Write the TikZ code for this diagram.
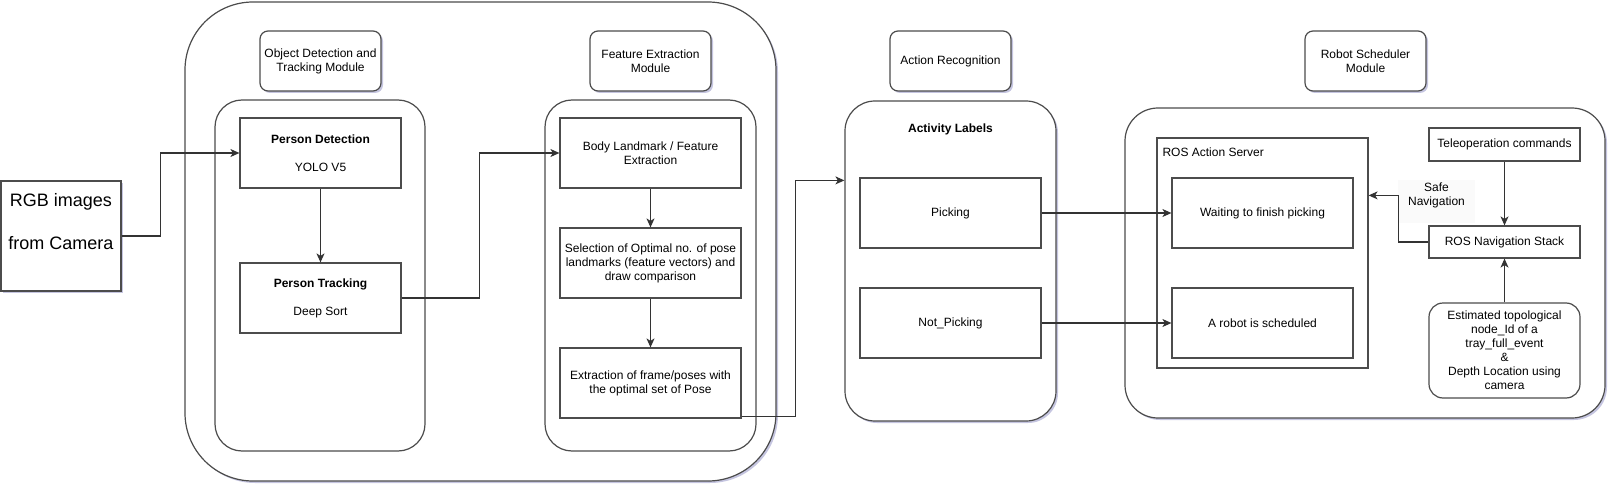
\documentclass[tikz,border=0pt]{standalone}
\usepackage{fontspec}
\setmainfont{Liberation Sans}
\usetikzlibrary{arrows.meta,shadows}

\begin{document}
\begin{tikzpicture}[x=1pt,y=-1pt]
    \tikzset{
        box/.style={draw=black!70,line width=1.2pt,fill=white,inner sep=0pt,
            align=center,font=\fontsize{12}{14}\selectfont},
        rbox/.style={box,rounded corners=#1},
        shade/.style={drop shadow={shadow xshift=2pt,shadow yshift=-2pt,
            opacity=0.35,fill=blue!30!gray}},
        title/.style={rbox=8pt,shade,minimum width=121pt,minimum height=60pt},
        step box/.style={box,minimum width=181pt,minimum height=70pt},
        arr/.style={draw=black!80,line width=1.1pt,
            -{Stealth[length=9pt,width=8pt,inset=2.5pt]}},
    }
    \useasboundingbox (0,0) rectangle (1618,492);
    % input
    \node[box,shade,minimum width=120pt,minimum height=110pt] (rgb) at (61,236) {};
    \node[font=\fontsize{18}{21.5}\selectfont,align=center] (rgbtext) at (61,221.5)
        {RGB images\\[21.5pt]from Camera};
    % modules
    \node[rbox=68pt,shade,minimum width=591pt,minimum height=479pt] (main) at (480.5,241.5) {};
    \node[rbox=30pt,shade,minimum width=211pt,minimum height=320pt] (act) at (950.5,261) {};
    \node[rbox=33pt,shade,minimum width=480pt,minimum height=310pt] (sched) at (1365,263) {};
    \node[title] (odt) at (320.5,61) {Object Detection and\\Tracking Module};
    \node[title] (fem) at (650.5,61) {Feature Extraction\\Module};
    \node[title] (ar) at (950.5,61) {Action Recognition};
    \node[title] (rsm) at (1365.5,61) {Robot Scheduler\\Module};
    \node[rbox=27pt,minimum width=210pt,minimum height=351pt] (track) at (320,275.5) {};
    \node[rbox=27pt,minimum width=211pt,minimum height=351pt] (feat) at (650.5,275.5) {};
    \node[box,minimum width=211pt,minimum height=230pt] (ras) at (1262.5,253) {};
    % detection and tracking
    \node[step box,minimum width=161pt] (pd) at (320.5,153)
        {\textbf{Person Detection}\\[14pt]YOLO V5};
    \node[step box,minimum width=161pt] (pt) at (320.5,298)
        {\textbf{Person Tracking}\\[14pt]Deep Sort};
    % features
    \node[step box] (bl) at (650.5,153) {Body Landmark / Feature\\Extraction};
    \node[step box] (sel) at (650.5,263)
        {Selection of Optimal no. of pose\\landmarks (feature vectors) and\\draw comparison};
    \node[step box] (ext) at (650.5,383) {Extraction of frame/poses with\\the optimal set of Pose};
    % activity labels
    \node[font=\fontsize{12}{14}\selectfont\bfseries] (actlbl) at (950.5,129) {Activity Labels};
    \node[step box] (pick) at (950.5,213) {Picking};
    \node[step box] (npick) at (950.5,323) {Not\_Picking};
    % scheduler
    \node[anchor=west,font=\fontsize{12}{14}\selectfont] (raslbl) at (1159,152) {ROS Action Server};
    \node[step box] (wait) at (1262.5,213) {Waiting to finish picking};
    \node[step box] (robot) at (1262.5,323) {A robot is scheduled};
    \node[box,minimum width=151pt,minimum height=33pt] (tele) at (1504.5,144.5) {Teleoperation commands};
    \node[box,minimum width=151pt,minimum height=32pt] (nav) at (1504.5,242) {ROS Navigation Stack};
    \node[rbox=14pt,minimum width=151pt,minimum height=95pt] (est) at (1504.5,350.5)
        {Estimated topological\\node\_Id of a\\tray\_full\_event\\\&\\Depth Location using\\camera};
    \node[fill=black!2,align=center,font=\fontsize{12}{14}\selectfont,inner sep=0pt,
        minimum width=77pt,minimum height=43pt,text depth=14pt] (safe) at (1436.5,201.5)
        {Safe\\Navigation};
    % connectors
    \draw[arr] (rgb.east) -| ([xshift=-79pt]pd.west) -- (pd.west);
    \draw[arr] (pd) -- (pt);
    \draw[arr] (pt.east) -| ([xshift=-80pt]bl.west) -- (bl.west);
    \draw[arr] (bl) -- (sel);
    \draw[arr] (sel) -- (ext);
    \draw[arr] ([yshift=2pt]ext.south east) -| ([xshift=-49pt,yshift=-80pt]act.north west)
        -- ([yshift=-80pt]act.north west);
    \draw[arr] (pick) -- (wait);
    \draw[arr] (npick) -- (robot);
    \draw[arr] (tele) -- (nav);
    \draw[arr] (est) -- (nav);
    \draw[arr] (nav.west) -| ([xshift=30pt,yshift=-58pt]ras.north east)
        -- ([yshift=-58pt]ras.north east);
\end{tikzpicture}
\end{document}
